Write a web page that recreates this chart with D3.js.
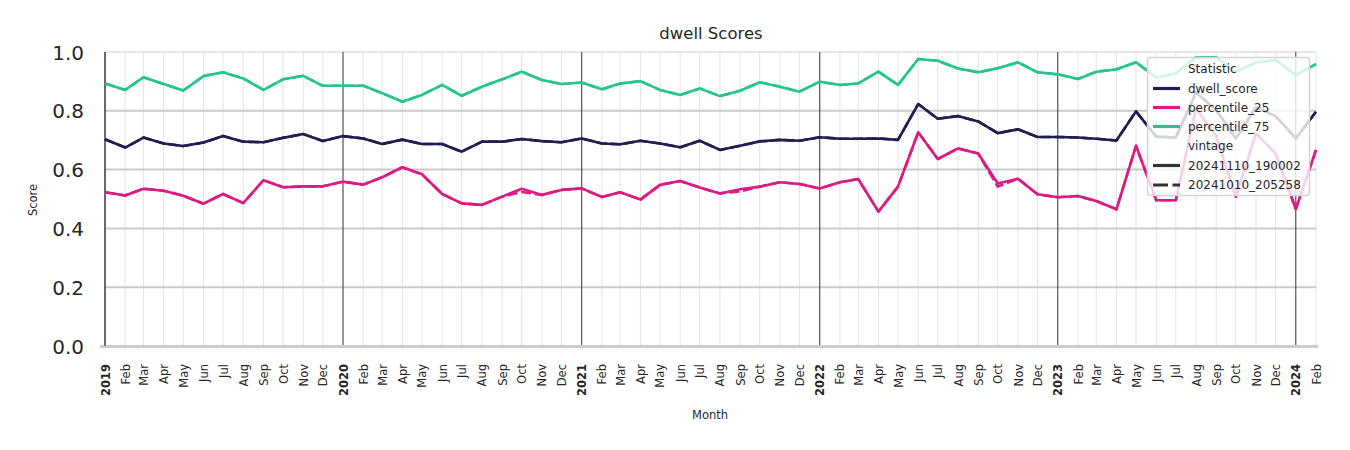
<!DOCTYPE html>
<html>
<head>
<meta charset="utf-8">
<script src="https://cdn.jsdelivr.net/npm/d3@7"></script>
<style>
  html, body { margin: 0; padding: 0; background: #fff; }
  svg { display: block; font-family: "DejaVu Sans", sans-serif; }
</style>
</head>
<body>
<svg id="chart" width="1350" height="450"></svg>
<script>
// ---------- data ----------
const months = [
  "2019-01","2019-02","2019-03","2019-04","2019-05","2019-06","2019-07","2019-08","2019-09","2019-10","2019-11","2019-12",
  "2020-01","2020-02","2020-03","2020-04","2020-05","2020-06","2020-07","2020-08","2020-09","2020-10","2020-11","2020-12",
  "2021-01","2021-02","2021-03","2021-04","2021-05","2021-06","2021-07","2021-08","2021-09","2021-10","2021-11","2021-12",
  "2022-01","2022-02","2022-03","2022-04","2022-05","2022-06","2022-07","2022-08","2022-09","2022-10","2022-11","2022-12",
  "2023-01","2023-02","2023-03","2023-04","2023-05","2023-06","2023-07","2023-08","2023-09","2023-10","2023-11","2023-12",
  "2024-01","2024-02"
];

const dwellScore = [
  0.703,0.675,0.709,0.689,0.680,0.692,0.714,0.695,0.693,0.708,0.721,0.697,
  0.714,0.706,0.687,0.702,0.687,0.687,0.661,0.695,0.695,0.704,0.697,0.693,
  0.706,0.689,0.686,0.698,0.689,0.676,0.698,0.667,0.681,0.696,0.701,0.698,
  0.710,0.705,0.705,0.706,0.701,0.823,0.773,0.782,0.764,0.724,0.737,0.711,
  0.711,0.709,0.705,0.699,0.798,0.712,0.709,0.862,0.803,0.706,0.812,0.782,
  0.706,0.797
];

const percentile25 = [
  0.523,0.512,0.535,0.528,0.511,0.484,0.517,0.486,0.564,0.540,0.543,0.543,
  0.559,0.549,0.574,0.608,0.584,0.517,0.485,0.480,0.508,0.535,0.514,0.531,
  0.536,0.507,0.523,0.498,0.548,0.561,0.539,0.519,0.533,0.542,0.557,0.551,
  0.536,0.557,0.568,0.457,0.542,0.727,0.636,0.672,0.655,0.553,0.569,0.516,
  0.506,0.510,0.493,0.465,0.681,0.496,0.496,0.808,0.714,0.508,0.723,0.655,
  0.466,0.667
];

const percentile75 = [
  0.893,0.871,0.914,0.891,0.869,0.918,0.931,0.910,0.871,0.907,0.919,0.885,
  0.885,0.885,0.860,0.831,0.854,0.888,0.851,0.882,0.907,0.933,0.905,0.891,
  0.896,0.873,0.893,0.901,0.871,0.854,0.876,0.850,0.868,0.897,0.882,0.865,
  0.899,0.888,0.893,0.933,0.888,0.976,0.970,0.944,0.931,0.945,0.965,0.931,
  0.924,0.908,0.933,0.941,0.965,0.913,0.928,0.982,0.982,0.933,0.964,0.973,
  0.922,0.959
];

// earlier vintage (dashed) – nearly identical, differs at a few months
const dwellScoreOld = dwellScore.slice();
const percentile25Old = [
  0.523,0.512,0.535,0.528,0.511,0.484,0.517,0.486,0.564,0.540,0.543,0.543,
  0.559,0.549,0.574,0.608,0.584,0.517,0.485,0.480,0.508,0.524,0.514,0.531,
  0.536,0.507,0.523,0.498,0.548,0.561,0.539,0.519,0.526,0.542,0.557,0.551,
  0.536,0.557,0.568,0.457,0.542,0.727,0.636,0.672,0.655,0.542,0.569,0.516,
  0.506,0.510,0.493,0.465,0.681,0.496,0.496,0.808,0.714,0.508,0.723,0.655,
  0.466,0.667
];
const percentile75Old = percentile75.slice();

const yTicks = [0.0, 0.2, 0.4, 0.6, 0.8, 1.0];

const statNames = ["dwell_score", "percentile_25", "percentile_75"];
const statColors = ["#1e1e50", "#dc1a82", "#26c48e"];
const vintageNames = ["20241110_190002", "20241010_205258"];

// ---------- layout ----------
const svg = d3.select("#chart");
const parse = d3.timeParse("%Y-%m");
const dates = months.map(parse);

const margin = { left: 105, right: 1316, top: 52, bottom: 346 };
const x = d3.scaleTime()
  .domain([dates[0], dates[dates.length - 1]])
  .range([margin.left, margin.right]);
const y = d3.scaleLinear().domain([0, 1]).range([margin.bottom, margin.top]);

// minor month grid lines
svg.append("g").selectAll("line")
  .data(dates.filter(d => d.getMonth() !== 0))
  .join("line")
  .attr("x1", d => x(d)).attr("x2", d => x(d))
  .attr("y1", y(1)).attr("y2", y(0))
  .attr("stroke", "#e3e3e3").attr("stroke-width", 1);

// horizontal grid lines
svg.append("g").selectAll("line")
  .data(yTicks.filter(v => v > 0 && v < 1))
  .join("line")
  .attr("x1", x.range()[0]).attr("x2", x.range()[1])
  .attr("y1", d => y(d)).attr("y2", d => y(d))
  .attr("stroke", "#c9c9c9").attr("stroke-width", 2);

// top line
svg.append("line")
  .attr("x1", x.range()[0]).attr("x2", x.range()[1])
  .attr("y1", y(1)).attr("y2", y(1))
  .attr("stroke", "#d0d0d0").attr("stroke-width", 1);

// year lines
svg.append("g").selectAll("line")
  .data(dates.filter(d => d.getMonth() === 0))
  .join("line")
  .attr("x1", d => x(d)).attr("x2", d => x(d))
  .attr("y1", y(1)).attr("y2", y(0))
  .attr("stroke", "#444").attr("stroke-width", 1.1);

// bottom axis line
svg.append("line")
  .attr("x1", x.range()[0] - 5).attr("x2", x.range()[1] + 2)
  .attr("y1", y(0) + 0.5).attr("y2", y(0) + 0.5)
  .attr("stroke", "#cccccc").attr("stroke-width", 3);

// x axis labels
const xAxis = d3.axisBottom(x)
  .tickValues(dates)
  .tickSize(0)
  .tickFormat(d => d.getMonth() === 0 ? d3.timeFormat("%Y")(d) : d3.timeFormat("%b")(d));
const gx = svg.append("g").attr("transform", `translate(0,${y(0) + 18})`).call(xAxis);
gx.select(".domain").remove();
gx.selectAll("text")
  .attr("transform", "rotate(-90)")
  .attr("text-anchor", "end")
  .attr("x", 0).attr("y", 0).attr("dy", "0.35em")
  .attr("font-size", 11.5)
  .attr("font-family", "DejaVu Sans, sans-serif")
  .attr("fill", "#262626")
  .attr("font-weight", d => d.getMonth() === 0 ? "bold" : "normal");

// y axis
const yAxis = d3.axisLeft(y).tickValues(yTicks).tickSize(0).tickFormat(d3.format(".1f"));
const gy = svg.append("g").attr("transform", `translate(${margin.left - 21},0)`).call(yAxis);
gy.select(".domain").remove();
gy.selectAll("text")
  .attr("font-size", 20)
  .attr("font-family", "DejaVu Sans, sans-serif")
  .attr("fill", "#262626")
  .attr("x", 0).attr("dy", "0.35em");

// left spine
svg.append("line")
  .attr("x1", margin.left).attr("x2", margin.left)
  .attr("y1", y(1)).attr("y2", y(0))
  .attr("stroke", "#444").attr("stroke-width", 1.1);

// ---------- lines ----------
const lineGen = d3.line().x((d, i) => x(dates[i])).y(d => y(d));
const seriesOld = [dwellScoreOld, percentile25Old, percentile75Old];
const seriesNew = [dwellScore, percentile25, percentile75];

seriesOld.forEach((s, k) => {
  svg.append("path").datum(s)
    .attr("d", lineGen).attr("fill", "none")
    .attr("stroke", statColors[k]).attr("stroke-width", 2.6)
    .attr("stroke-dasharray", "10,3.75")
    .attr("stroke-linejoin", "round");
});
seriesNew.forEach((s, k) => {
  svg.append("path").datum(s)
    .attr("d", lineGen).attr("fill", "none")
    .attr("stroke", statColors[k]).attr("stroke-width", 2.6)
    .attr("stroke-linejoin", "round");
});

// ---------- titles ----------
svg.append("text").attr("x", 711).attr("y", 39).attr("text-anchor", "middle")
  .attr("font-size", 16.5).attr("fill", "#262626").text("dwell Scores");
svg.append("text").attr("x", 710).attr("y", 419).attr("text-anchor", "middle")
  .attr("font-size", 11.5).attr("fill", "#262626").text("Month");
svg.append("text").attr("transform", "translate(37,200) rotate(-90)")
  .attr("text-anchor", "middle").attr("font-size", 11.5).attr("fill", "#262626").text("Score");

// ---------- legend ----------
const lg = svg.append("g");
lg.append("rect").attr("x", 1147.5).attr("y", 57.5).attr("width", 162).attr("height", 138)
  .attr("rx", 3).attr("fill", "#fff").attr("fill-opacity", 0.8)
  .attr("stroke", "#d4d4d4").attr("stroke-width", 1.5);

const legendRows = [
  { label: "Statistic", color: null, dash: null },
  { label: statNames[0], color: statColors[0], dash: null },
  { label: statNames[1], color: statColors[1], dash: null },
  { label: statNames[2], color: statColors[2], dash: null },
  { label: "vintage", color: null, dash: null },
  { label: vintageNames[0], color: "#333", dash: null },
  { label: vintageNames[1], color: "#333", dash: "15,4.5" }
];
const rowY = [68.5, 88.5, 107.5, 126.5, 146, 165.5, 185];
legendRows.forEach((r, i) => {
  if (r.color) {
    lg.append("line").attr("x1", 1153).attr("x2", 1180)
      .attr("y1", rowY[i]).attr("y2", rowY[i])
      .attr("stroke", r.color).attr("stroke-width", 3.2)
      .attr("stroke-dasharray", r.dash);
  }
  lg.append("text").attr("x", 1188).attr("y", rowY[i]).attr("dy", "0.35em")
    .attr("font-size", 12).attr("fill", "#262626").text(r.label);
});
</script>
</body>
</html>
